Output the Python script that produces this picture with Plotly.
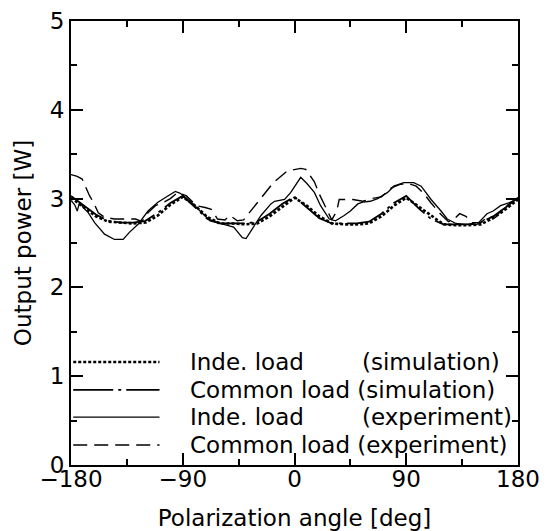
import plotly.graph_objects as go

# ---------------- data ----------------
sim_angle = [-180, -170, -160, -150, -140, -130, -120, -110, -100, -90,
             -80, -70, -60, -50, -40, -30, -20, -10, 0,
             10, 20, 30, 40, 50, 60, 70, 80, 90,
             100, 110, 120, 130, 140, 150, 160, 170, 180]
inde_sim = [3.01, 2.90, 2.80, 2.74, 2.73, 2.72, 2.73, 2.81, 2.93, 3.02,
            2.92, 2.79, 2.72, 2.72, 2.71, 2.72, 2.80, 2.91, 3.01,
            2.92, 2.80, 2.72, 2.71, 2.71, 2.72, 2.80, 2.92, 3.01,
            2.91, 2.80, 2.71, 2.70, 2.70, 2.71, 2.78, 2.88, 2.99]
common_sim = [3.03, 2.92, 2.82, 2.75, 2.73, 2.73, 2.75, 2.84, 2.95, 3.03,
              2.90, 2.77, 2.72, 2.72, 2.72, 2.74, 2.83, 2.94, 3.02,
              2.90, 2.78, 2.72, 2.72, 2.72, 2.74, 2.83, 2.95, 3.03,
              2.89, 2.77, 2.71, 2.71, 2.71, 2.73, 2.80, 2.90, 3.01]

inde_exp_angle = [-180, -177, -175, -173, -170, -166, -161, -153, -145, -138,
                  -133, -126, -118, -110, -102, -96, -92, -84, -76, -68,
                  -57, -49, -42, -39, -34, -27, -19, -16, -8, -3,
                  5, 10, 16, 21, 28, 33, 40, 45, 51, 55,
                  61, 67, 75, 80, 88, 96, 102, 110, 118, 123,
                  130, 137, 147, 155, 160, 166, 174, 180]
inde_exp = [2.98, 2.93, 2.86, 2.96, 2.90, 2.84, 2.73, 2.60, 2.54, 2.54,
            2.62, 2.71, 2.86, 2.96, 3.03, 3.08, 3.06, 2.97, 2.86, 2.75,
            2.71, 2.68, 2.56, 2.55, 2.66, 2.81, 2.94, 2.97, 2.99, 3.07,
            3.24, 3.17, 3.07, 2.92, 2.77, 2.75, 2.81, 2.86, 2.94, 2.96,
            2.97, 3.00, 3.07, 3.14, 3.18, 3.18, 3.14, 2.99, 2.86, 2.77,
            2.72, 2.71, 2.71, 2.83, 2.86, 2.92, 2.96, 3.00]

common_exp_angle = [-180, -175, -171, -169, -165, -162, -158, -153, -145, -135,
                    -128, -123, -118, -112, -105, -100, -94, -87, -79, -72,
                    -67, -62, -56, -52, -46, -41, -37, -30, -22, -17,
                    -6, 0, 5, 9, 16, 20, 25, 30, 34, 36,
                    42, 47, 55, 62, 70, 78, 85, 92, 98, 104,
                    110, 118, 124, 128, 133, 138, 143, 150, 156, 162,
                    167, 173, 180]
common_exp = [3.27, 3.25, 3.22, 3.15, 3.03, 2.96, 2.84, 2.79, 2.77, 2.77,
              2.77, 2.74, 2.84, 2.92, 2.96, 3.00, 3.07, 3.03, 2.92, 2.90,
              2.88, 2.77, 2.76, 2.81, 2.75, 2.76, 2.83, 2.96, 3.09, 3.18,
              3.31, 3.33, 3.34, 3.33, 3.19, 3.05, 2.90, 2.76, 2.86, 2.99,
              2.99, 2.99, 2.97, 3.00, 3.02, 3.12, 3.16, 3.17, 3.14, 3.06,
              2.95, 2.82, 2.74, 2.76, 2.83, 2.80, 2.73, 2.73, 2.80, 2.79,
              2.88, 2.94, 3.01]

x_ticks = [-180, -90, 0, 90, 180]
x_ticktext = ["\u2212180", "\u221290", "0", "90", "180"]
y_ticks = [0, 1, 2, 3, 4, 5]

legend_names = ["Inde. load", "Common load", "Inde. load", "Common load"]
legend_kinds = ["(simulation)", "(simulation)", "(experiment)", "(experiment)"]

# ---------------- styles ----------------
FONT = "DejaVu Sans"
styles = [
    dict(color="black", width=2.6, dash="3px,2px"),
    dict(color="black", width=1.8, dash="40px,5px,3px,5px"),
    dict(color="black", width=1.3, dash="solid"),
    dict(color="black", width=1.4, dash="14px,7px"),
]

fig = go.Figure()
series = [
    (sim_angle, inde_sim),
    (sim_angle, common_sim),
    (inde_exp_angle, inde_exp),
    (common_exp_angle, common_exp),
]
for (xs, ys), st, nm, kd in zip(series, styles, legend_names, legend_kinds):
    fig.add_trace(go.Scatter(x=xs, y=ys, mode="lines", line=st,
                             name=f"{nm} {kd}", showlegend=False))

# ---------------- manual legend (long line samples) ----------------
row_y = [0.232, 0.169, 0.108, 0.045]
for i, (st, nm, kd) in enumerate(zip(styles, legend_names, legend_kinds)):
    fig.add_shape(type="line", xref="paper", yref="paper",
                  x0=0.005, x1=0.198, y0=row_y[i], y1=row_y[i],
                  line=st)
    if nm.startswith("Common"):
        fig.add_annotation(x=0.262, y=row_y[i], xref="paper", yref="paper",
                           text=f"{nm} {kd}", showarrow=False,
                           xanchor="left", yanchor="middle",
                           font=dict(family=FONT, size=23, color="black"))
    else:
        fig.add_annotation(x=0.262, y=row_y[i], xref="paper", yref="paper",
                           text=nm, showarrow=False,
                           xanchor="left", yanchor="middle",
                           font=dict(family=FONT, size=23, color="black"))
        fig.add_annotation(x=0.647, y=row_y[i], xref="paper", yref="paper",
                           text=kd, showarrow=False,
                           xanchor="left", yanchor="middle",
                           font=dict(family=FONT, size=23, color="black"))

axis_common = dict(showline=True, linecolor="black", linewidth=2,
                   mirror="ticks", ticks="inside", tickcolor="black",
                   tickwidth=1.5, ticklen=12, showgrid=False, zeroline=False,
                   automargin=False,
                   tickfont=dict(family=FONT, size=23, color="black"))

fig.update_xaxes(range=[-180, 180], tickvals=x_ticks, ticktext=x_ticktext,
                 ticklabelstandoff=-8,
                 minor=dict(dtick=45, tick0=-180, ticks="inside", ticklen=6,
                            tickwidth=1.5, tickcolor="black", showgrid=False),
                 title=dict(text="Polarization angle [deg]", standoff=23,
                            font=dict(family=FONT, size=23, color="black")),
                 **axis_common)
fig.update_yaxes(range=[0, 5], tickvals=y_ticks,
                 minor=dict(dtick=0.5, tick0=0, ticks="inside", ticklen=6,
                            tickwidth=1.5, tickcolor="black", showgrid=False),
                 title=dict(text="Output power [W]", standoff=12,
                            font=dict(family=FONT, size=23, color="black")),
                 **axis_common)

fig.update_layout(width=547, height=531,
                  margin=dict(l=71, r=29, t=21, b=66),
                  paper_bgcolor="white", plot_bgcolor="white",
                  font=dict(family=FONT, color="black"),
                  showlegend=False)

fig.write_html("out.html")
